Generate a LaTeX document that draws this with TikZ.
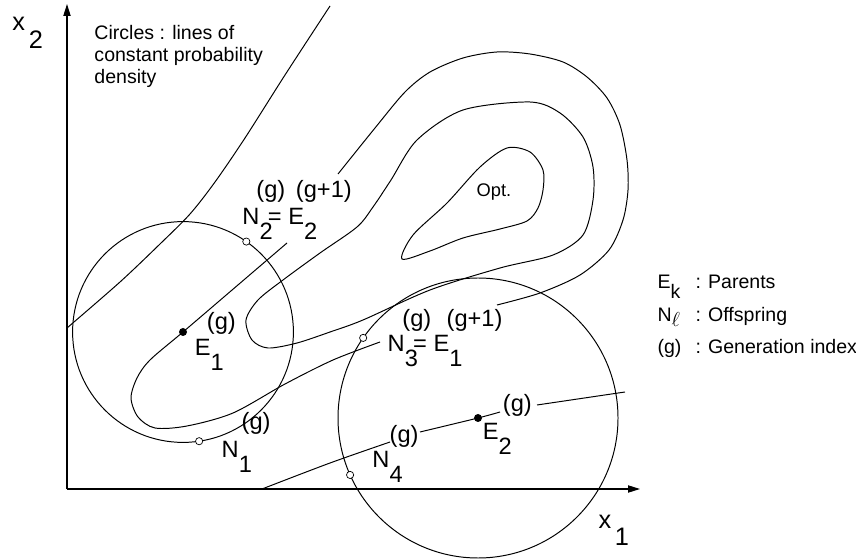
\documentclass[tikz,border=0pt]{standalone}
\usepackage{fontspec}
\setmainfont{Liberation Sans}
\usetikzlibrary{arrows.meta, calc}
\newcommand{\lblsize}{\fontsize{16.8}{18}\selectfont}
\newcommand{\axsize}{\fontsize{18}{18}\selectfont}
\newcommand{\txtsize}{\fontsize{13.9}{15.65}\selectfont}
\newcommand{\subdn}[1]{\raisebox{-0.6em}{#1}}

\begin{document}
\begin{tikzpicture}[>={Triangle[length=3mm, width=1.8mm]}, line width=0.7pt,
  parent/.style={circle, fill=black, inner sep=0pt, minimum size=2mm},
  offspring/.style={circle, draw, fill=white, inner sep=0pt, minimum size=1.8mm, line width=0.5pt},
  lbl/.style={font=\lblsize, inner sep=0pt, anchor=base west},
  txt/.style={font=\txtsize, inner sep=0pt, anchor=base west}]

\useasboundingbox (0,0) rectangle (21.4,13.975);

% Axes
\coordinate (o) at (1.675,1.75);
\coordinate (ytip) at (1.675,13.875);
\coordinate (xtip) at (16.0,1.75);
\draw[->, line width=0.9pt] (o) -- (ytip);
\draw[->, line width=0.9pt] (o) -- (xtip);
\node[lbl, font=\axsize] (x2lbl) at (0.3,13.2) {x\raisebox{-0.7em}{\kern0.15em 2}};
\node[lbl, font=\axsize] (x1lbl) at (14.95,0.775) {x\raisebox{-0.7em}{\kern0.15em 1}};

% Note
\node[txt, anchor=north west, align=left] (note) at (2.35,13.35)
  {Circles : lines of\\constant probability\\density};

% Lines of constant quality
\draw plot[smooth] coordinates {(8.25,13.825) (7.125,12.1) (6.125,10.525) (5.375,9.425)
  (4.75,8.625) (4.0,7.875) (3.0,6.925) (1.675,5.775)};
\draw plot[smooth] coordinates {(7.175,7.9) (5.875,6.7875) (4.575,5.675) (3.75,4.975)
  (3.425,4.525) (3.275,4.025) (3.45,3.55) (3.875,3.275) (4.675,3.325) (5.825,3.65)
  (7.125,4.375) (8.325,4.975) (9.5,5.425)};
\draw plot[smooth] coordinates {(12.425,6.35) (13.5,6.65) (14.5,7.1) (15.225,7.725)
  (15.575,8.475) (15.7,9.225) (15.675,9.975) (15.5,10.85) (15.175,11.525) (14.675,12.05)
  (14.075,12.425) (13.25,12.625) (12.425,12.675) (11.575,12.525) (10.75,12.175)
  (10.125,11.675) (9.375,10.775) (8.45,9.625)};
\draw plot[smooth cycle] coordinates {(11.575,11.225) (10.425,10.475) (9.775,9.475)
  (9.325,8.8) (8.925,8.3) (8.0,7.65) (7.075,6.975) (6.45,6.475) (6.15,5.975) (6.3,5.475)
  (6.7,5.275) (7.425,5.4) (8.25,5.675) (9.075,5.975) (10.75,6.725) (12.5,7.275)
  (13.825,7.6) (14.575,8.1) (14.825,8.975) (14.825,9.8) (14.575,10.55) (14.0,11.15)
  (13.25,11.425)};
\draw plot[smooth cycle] coordinates {(10.05,7.5) (10.325,8.1) (11.175,8.9) (12.0,9.8)
  (12.675,10.275) (13.25,10.175) (13.575,9.725) (13.575,9.225) (13.45,8.775)
  (13.175,8.45) (12.5,8.25) (11.575,8.025) (10.75,7.7)};
\draw plot[smooth] coordinates {(6.55,1.75) (8.25,2.4) (9.75,2.925)};
\draw plot[smooth] coordinates {(10.5,3.175) (11.95,3.525) (12.5,3.675)};
\draw (13.425,3.85) -- (15.625,4.175);
\node[txt, anchor=base, font=\fontsize{13}{13}\selectfont] (opt) at (12.35,9.05) {Opt.};

% Mutation circles
\coordinate (c1) at (4.575,5.675);
\coordinate (c2) at (11.95,3.525);
\draw (c1) circle (2.76);
\draw (c2) circle (3.5);

% Parents and offspring
\node[parent] (e1) at (c1) {};
\node[parent] (e2) at (c2) {};
\node[offspring] (n1) at ($(c1)+(-81.6:2.76)$) {};
\node[offspring] (n2) at ($(c1)+(55:2.76)$) {};
\node[offspring] (n3) at ($(c2)+(145.1:3.5)$) {};
\node[offspring] (n4) at ($(c2)+(204:3.5)$) {};

\node[lbl] (e1name) at (4.86,5.075) {E\subdn{1}};
\node[lbl] (e1gen) at (5.16,5.725) {(g)};
\node[lbl] (n1name) at (5.53,2.525) {N\subdn{1}};
\node[lbl] (n1gen) at (6.03,3.225) {(g)};
\node[lbl] (n2name) at (6.05,8.35) {N\subdn{2}\kern-0.2em= E\subdn{2}};
\node[lbl] (n2gen) at (6.4,9.025) {(g)\hspace{0.45em}(g+1)};
\node[lbl] (n3name) at (9.68,5.175) {N\subdn{3}\kern-0.2em= E\subdn{1}};
\node[lbl] (n3gen) at (10.05,5.8) {(g)\hspace{0.65em}(g+1)};
\node[lbl] (n4name) at (9.3,2.275) {N\subdn{4}};
\node[lbl] (n4gen) at (9.73,2.9) {(g)};
\node[lbl] (e2name) at (12.06,2.975) {E\subdn{2}};
\node[lbl] (e2gen) at (12.56,3.675) {(g)};

% Legend
\node[txt] (eksym) at (16.425,6.76) {E\raisebox{-0.5em}{k}};
\node[txt] (eklbl) at (17.375,6.76) {: Parents};
\node[txt] (nlsym) at (16.425,5.94) {N\raisebox{-0.25em}{$\ell$}};
\node[txt] (nllbl) at (17.375,5.94) {: Offspring};
\node[txt] (gsym) at (16.425,5.13) {(g)};
\node[txt] (glbl) at (17.375,5.13) {: Generation index};

\end{tikzpicture}
\end{document}
